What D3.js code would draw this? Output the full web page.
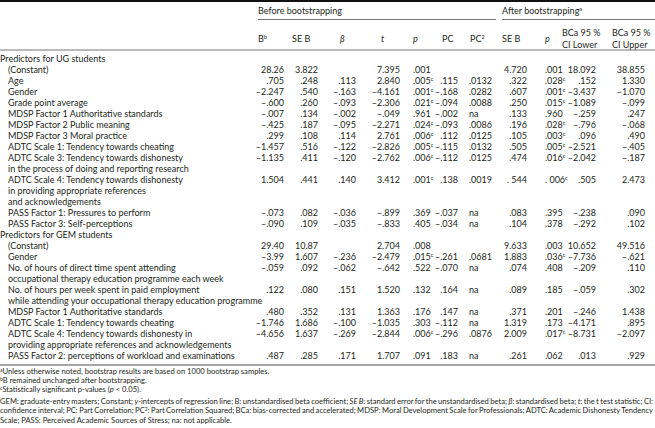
<!DOCTYPE html>
<html>
<head>
<meta charset="utf-8">
<script src="https://cdn.jsdelivr.net/npm/d3@7"></script>
<style>
body { margin: 0; background: #fff; }
svg text { font-family: Lato, "Open Sans", sans-serif; fill: #231f20; white-space: pre; }
</style>
</head>
<body>
<svg id="tbl" width="655" height="428"></svg>
<script>
// row labels (indent 0 = group heading, 1 = predictor / continuation line)
var rowLabels = ["Predictors for UG students", "(Constant)", "Age", "Gender", "Grade point average",
  "MDSP Factor 1 Authoritative standards", "MDSP Factor 2 Public meaning", "MDSP Factor 3 Moral practice",
  "ADTC Scale 1: Tendency towards cheating", "ADTC Scale 3: Tendency towards dishonesty",
  "in the process of doing and reporting research", "ADTC Scale 4: Tendency towards dishonesty",
  "in providing appropriate references", "and acknowledgements", "PASS Factor 1: Pressures to perform",
  "PASS Factor 3: Self-perceptions", "Predictors for GEM students", "(Constant)", "Gender",
  "No. of hours of direct time spent attending", "occupational therapy education programme each week",
  "No. of hours per week spent in paid employment", "while attending your occupational therapy education programme",
  "MDSP Factor 1 Authoritative standards", "ADTC Scale 1: Tendency towards cheating",
  "ADTC Scale 4: Tendency towards dishonesty in", "providing appropriate references and acknowledgements",
  "PASS Factor 2: perceptions of workload and examinations"];
var rowIndent = [0,1,1,1,1,1,1,1,1,1,1,1,1,1,1,1,0,1,1,1,1,1,1,1,1,1,1,1];

// before bootstrapping
var colB = ["", "28.26", ".705", "–2.247", "–.600", "–.007", "–.425", ".299", "–1.457", "–1.135", "", "1.504", "", "", "–.073", "–.090", "", "29.40", "–3.99", "–.059", "", ".122", "", ".480", "–1.746", "–4.656", "", ".487"];
var colSE = ["", "3.822", ".248", ".540", ".260", ".134", ".187", ".108", ".516", ".411", "", ".441", "", "", ".082", ".109", "", "10.87", "1.607", ".092", "", ".080", "", ".352", "1.686", "1.637", "", ".285"];
var colBeta = ["", "", ".113", "–.163", "–.093", "–.002", "–.095", ".114", "–.122", "–.120", "", ".140", "", "", "–.036", "–.035", "", "", "–.236", "–.062", "", ".151", "", ".131", "–.100", "–.269", "", ".171"];
var colT = ["", "7.395", "2.840", "–4.161", "–2.306", "–.049", "–2.271", "2.761", "–2.826", "–2.762", "", "3.412", "", "", "–.899", "–.833", "", "2.704", "–2.479", "–.642", "", "1.520", "", "1.363", "–1.035", "–2.844", "", "1.707"];
var colP = ["", ".001", ".005c", ".001c", ".021c", ".961", ".024c", ".006c", ".005c", ".006c", "", ".001c", "", "", ".369", ".405", "", ".008", ".015c", ".522", "", ".132", "", ".176", ".303", ".006c", "", ".091"];
var colPC = ["", "", ".115", "–.168", "–.094", "–.002", "–.093", ".112", "–.115", "–.112", "", ".138", "", "", "–.037", "–.034", "", "", "–.261", "–.070", "", ".164", "", ".147", "–.112", "–.296", "", ".183"];
var colPC2 = ["", "", ".0132", ".0282", ".0088", "na", ".0086", ".0125", ".0132", ".0125", "", ".0019", "", "", "na", "na", "", "", ".0681", "na", "", "na", "", "na", "na", ".0876", "", "na"];
// after bootstrapping
var colSE2 = ["", "4.720", ".322", ".607", ".250", ".133", ".196", ".105", ".505", ".474", "", ". 544", "", "", ".083", ".104", "", "9.633", "1.883", ".074", "", ".089", "", ".371", "1.319", "2.009", "", ".261"];
var colP2 = ["", ".001", ".028c", ".001c", ".015c", ".960", ".028c", ".003c", ".005c", ".016c", "", ". 006c", "", "", ".395", ".378", "", ".003", ".036c", ".408", "", ".185", "", ".201", ".173", ".017c", "", ".062"];
var colLower = ["", "18.092", ".152", "–3.437", "–1.089", "–.259", "–.796", ".096", "–2.521", "–2.042", "", ".505", "", "", "–.238", "–.292", "", "10.652", "–7.736", "–.209", "", "–.059", "", "–.246", "–4.171", "–8.731", "", ".013"];
var colUpper = ["", "38.855", "1.330", "–1.070", "–.099", ".247", "–.068", ".490", "–.405", "–.187", "", "2.473", "", "", ".090", ".102", "", "49.516", "–.621", ".110", "", ".302", "", "1.438", ".895", "–2.097", "", ".929"];

// column headings
var headLines = [["B"], ["SE B"], ["β"], ["t"], ["p"], ["PC"], ["PC"], ["SE B"], ["p"], ["BCa 95 %", "CI Lower"], ["BCa 95 %", "CI Upper"]];
var headSup = ["b", "", "", "", "", "", "2", "", "", "", ""];
var headItalic = [false, false, true, true, true, false, false, false, true, false, false];

// footnotes: [text, kind] where kind "s" = superscript, "i" = italic
var notes = [
  [["a", "s"], ["Unless otherwise noted, bootstrap results are based on 1000 bootstrap samples."]],
  [["b", "s"], ["B remained unchanged after bootstrapping."]],
  [["c", "s"], ["Statistically significant p-values ("], ["p", "i"], [" < 0.05)."]],
  [["GEM: graduate-entry masters; Constant; "], ["y", "i"], ["-intercepts of regression line; B: unstandardised beta coefficient; "], ["SE B", "i"], [": standard error for the unstandardised beta; "], ["β", "i"], [": standardised beta; "], ["t", "i"], [": the t test statistic; CI:"]],
  [["confidence interval; PC: Part Correlation; PC"], ["2", "s"], [": Part Correlation Squared; BCa: bias-corrected and accelerated; MDSP: Moral Development Scale for Professionals; ADTC: Academic Dishonesty Tendency"]],
  [["Scale; PASS: Perceived Academic Sources of Stress; na: not applicable."]]
];

var W = 655, H = 428;
var svg = d3.select("#tbl");

var colKeys = ["b", "se", "beta", "t", "p", "pc", "pc2", "se2", "p2", "lo", "hi"];
var colVals = [colB, colSE, colBeta, colT, colP, colPC, colPC2, colSE2, colP2, colLower, colUpper];
var colAnchor = ["end", "end", "end", "end", "start", "end", "start", "end", "start", "end", "end"];
var xVal = d3.scaleOrdinal().domain(colKeys).range([284, 318, 356, 400, 413, 458, 469, 527, 545, 596, 645]);
var xHead = d3.scaleOrdinal().domain(colKeys).range([258, 292, 340, 381, 413, 442, 470, 502, 545, 562, 612]);
var yRow = d3.scalePoint().domain(d3.range(rowLabels.length)).range([59, 356]);
var yNote = d3.scalePoint().domain(d3.range(notes.length)).range([374, 420]);

var fs = 9, fsNote = 7.6;

// rules
svg.append("rect").attr("x", 0).attr("y", 0).attr("width", W).attr("height", 2).attr("fill", "#111");
svg.append("line").attr("x1", 258).attr("x2", 496).attr("y1", 19.5).attr("y2", 19.5).attr("stroke", "#777").attr("stroke-width", 1);
svg.append("line").attr("x1", 502).attr("x2", W).attr("y1", 19.5).attr("y2", 19.5).attr("stroke", "#777").attr("stroke-width", 1);
svg.append("line").attr("x1", 0).attr("x2", W).attr("y1", 50).attr("y2", 50).attr("stroke", "#777").attr("stroke-width", 1);
svg.append("line").attr("x1", 0).attr("x2", W).attr("y1", 365).attr("y2", 365).attr("stroke", "#888").attr("stroke-width", 1.5);

// spanning headings
svg.append("text").attr("x", xHead("b")).attr("y", 11).attr("dy", "0.35em").attr("font-size", fs).text("Before bootstrapping");
var after = svg.append("text").attr("x", xHead("se2")).attr("y", 11).attr("dy", "0.35em").attr("font-size", fs);
after.append("tspan").text("After bootstrapping");
after.append("tspan").attr("font-size", 5.5).attr("dy", -3).text("a");

// column headings
colKeys.forEach(function(k, i) {
  var lines = headLines[i];
  lines.forEach(function(line, j) {
    var y = lines.length == 1 ? 39 : 33 + j * 11.5;
    var t = svg.append("text").attr("x", xHead(k)).attr("y", y).attr("dy", "0.35em").attr("font-size", fs)
      .attr("font-style", headItalic[i] ? "italic" : null);
    t.append("tspan").text(line);
    if (headSup[i]) t.append("tspan").attr("font-size", 5.5).attr("dy", -3.5).text(headSup[i]);
  });
});

// row labels
svg.append("g").selectAll("text")
  .data(rowLabels)
  .enter().append("text")
    .attr("x", function(d, i) { return rowIndent[i] * 8; })
    .attr("y", function(d, i) { return yRow(i); })
    .attr("dy", "0.35em")
    .attr("font-size", fs)
    .text(function(d) { return d; });

// cell values
colKeys.forEach(function(k, c) {
  var cells = svg.append("g").selectAll("text")
    .data(colVals[c])
    .enter().append("text")
      .attr("x", xVal(k))
      .attr("y", function(d, i) { return yRow(i); })
      .attr("dy", "0.35em")
      .attr("font-size", fs)
      .attr("text-anchor", colAnchor[c]);
  cells.each(function(d) {
    var sel = d3.select(this);
    var sig = /c$/.test(d);
    sel.append("tspan").text(sig ? d.slice(0, -1) : d);
    if (sig) sel.append("tspan").attr("font-size", 5.5).attr("dy", -3).text("c");
  });
});

// footnotes
notes.forEach(function(parts, i) {
  var t = svg.append("text").attr("x", 0).attr("y", yNote(i)).attr("dy", "0.35em").attr("font-size", fsNote);
  var shift = 0;
  parts.forEach(function(p) {
    var ts = t.append("tspan").text(p[0]);
    if (p[1] == "i") ts.attr("font-style", "italic");
    if (p[1] == "s") { ts.attr("font-size", 5).attr("dy", -2.5 - shift); shift = -2.5; }
    else if (shift) { ts.attr("dy", -shift); shift = 0; }
  });
  // lines 4 and 5 are justified to the full width
  if (i == 3 || i == 4) {
    var len = t.node().getComputedTextLength();
    var spaces = parts.map(function(p) { return p[0]; }).join("").split(" ").length - 1;
    t.attr("word-spacing", (W - 2 - len) / spaces);
  }
});
</script>
</body>
</html>
